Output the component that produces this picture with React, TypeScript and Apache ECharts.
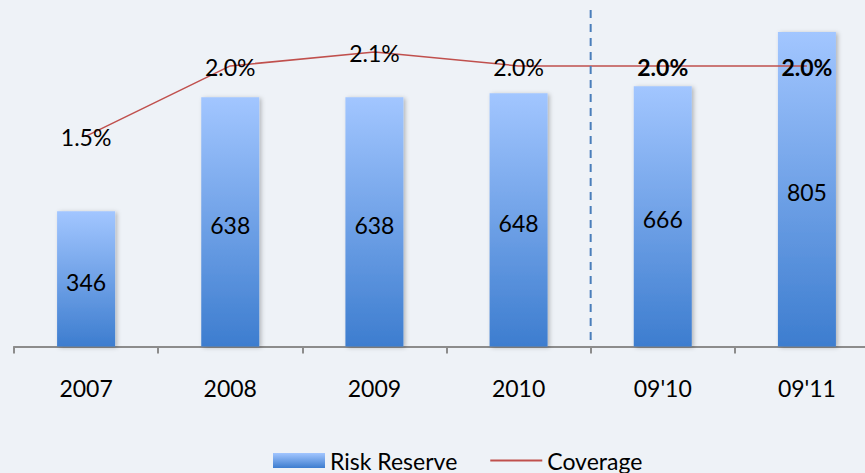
import React, { useEffect, useRef } from "react";
import * as echarts from "echarts";

const categories = ["2007", "2008", "2009", "2010", "09'10", "09'11"];
const riskReserve = [346, 638, 638, 648, 666, 805];
const coverage = [1.5, 2.0, 2.1, 2.0, 2.0, 2.0];
const projectedFrom = 4; // index where the dashed divider & bold labels start

const FONT = "Lato, 'Open Sans', sans-serif";
const FS = 23;

export default function App() {
  const ref = useRef<HTMLDivElement>(null);
  useEffect(() => {
    if (!ref.current) return;
    const chart = echarts.init(ref.current, null, { renderer: "svg" });
    const option: any = {
      animation: false,
      backgroundColor: "#eef2f7",
      textStyle: { fontFamily: FONT },
      grid: { left: 14, top: 0, right: 0, height: 346.5 },
      legend: {
        top: 444,
        left: 268,
        itemWidth: 52,
        itemHeight: 15,
        itemGap: 32,
        textStyle: { fontSize: FS, color: "#000", fontFamily: FONT },
        data: [
          { name: "Risk Reserve", icon: "rect" },
          { name: "Coverage", itemStyle: { opacity: 0 } },
        ],
      },
      xAxis: {
        type: "category",
        data: categories,
        axisLine: { lineStyle: { color: "#8c8c8c", width: 2 } },
        axisTick: { show: true, length: 7, lineStyle: { color: "#8c8c8c", width: 2 } },
        axisLabel: { fontSize: FS, color: "#000", margin: 30, fontFamily: FONT },
        splitLine: { show: false },
      },
      yAxis: [
        { type: "value", min: 0, max: 887, show: false, splitLine: { show: false } },
        { type: "value", min: 0, max: 2.47, show: false, splitLine: { show: false } },
      ],
      series: [
        {
          name: "Risk Reserve",
          type: "bar",
          yAxisIndex: 0,
          barWidth: 58,
          data: riskReserve,
          itemStyle: {
            color: new echarts.graphic.LinearGradient(0, 0, 0, 1, [
              { offset: 0, color: "#a2c6ff" },
              { offset: 1, color: "#3d7dcf" },
            ]),
            shadowColor: "rgba(0,0,0,0.25)",
            shadowBlur: 4,
            shadowOffsetX: 2,
            shadowOffsetY: 1,
          },
          label: {
            show: true,
            position: "inside",
            offset: [0, 3],
            fontSize: FS,
            color: "#000",
            fontFamily: FONT,
          },
        },
        {
          name: "Coverage",
          type: "line",
          yAxisIndex: 1,
          symbol: "circle",
          symbolSize: 0,
          lineStyle: { color: "#c0504d", width: 1.5 },
          itemStyle: { color: "#c0504d" },
          data: coverage.map((v, i) => ({
            value: v,
            label: i >= projectedFrom ? { fontWeight: "bold" } : {},
          })),
          label: {
            show: true,
            position: "inside",
            offset: [0, 1],
            fontSize: FS,
            color: "#000",
            fontFamily: FONT,
            formatter: (p: any) => Number(p.value).toFixed(1) + "%",
          },
          z: 5,
        },
      ],
    };
    chart.setOption(option);
    const a = chart.convertToPixel({ xAxisIndex: 0 }, projectedFrom - 1) as number;
    const b = chart.convertToPixel({ xAxisIndex: 0 }, projectedFrom) as number;
    const xDiv = (a + b) / 2;
    chart.setOption({
      graphic: [
        {
          type: "line",
          shape: { x1: xDiv, y1: 10, x2: xDiv, y2: 340 },
          style: { stroke: "#4a7ebb", lineWidth: 2, lineDash: [8, 6] },
          z: 10,
        },
      ],
    });
    return () => chart.dispose();
  }, []);
  return (
    <div
      style={{
        position: "absolute",
        left: 0,
        top: 0,
        width: 865,
        height: 473,
        overflow: "hidden",
      }}
    >
      <div ref={ref} style={{ width: 879, height: 473 }} />
    </div>
  );
}
